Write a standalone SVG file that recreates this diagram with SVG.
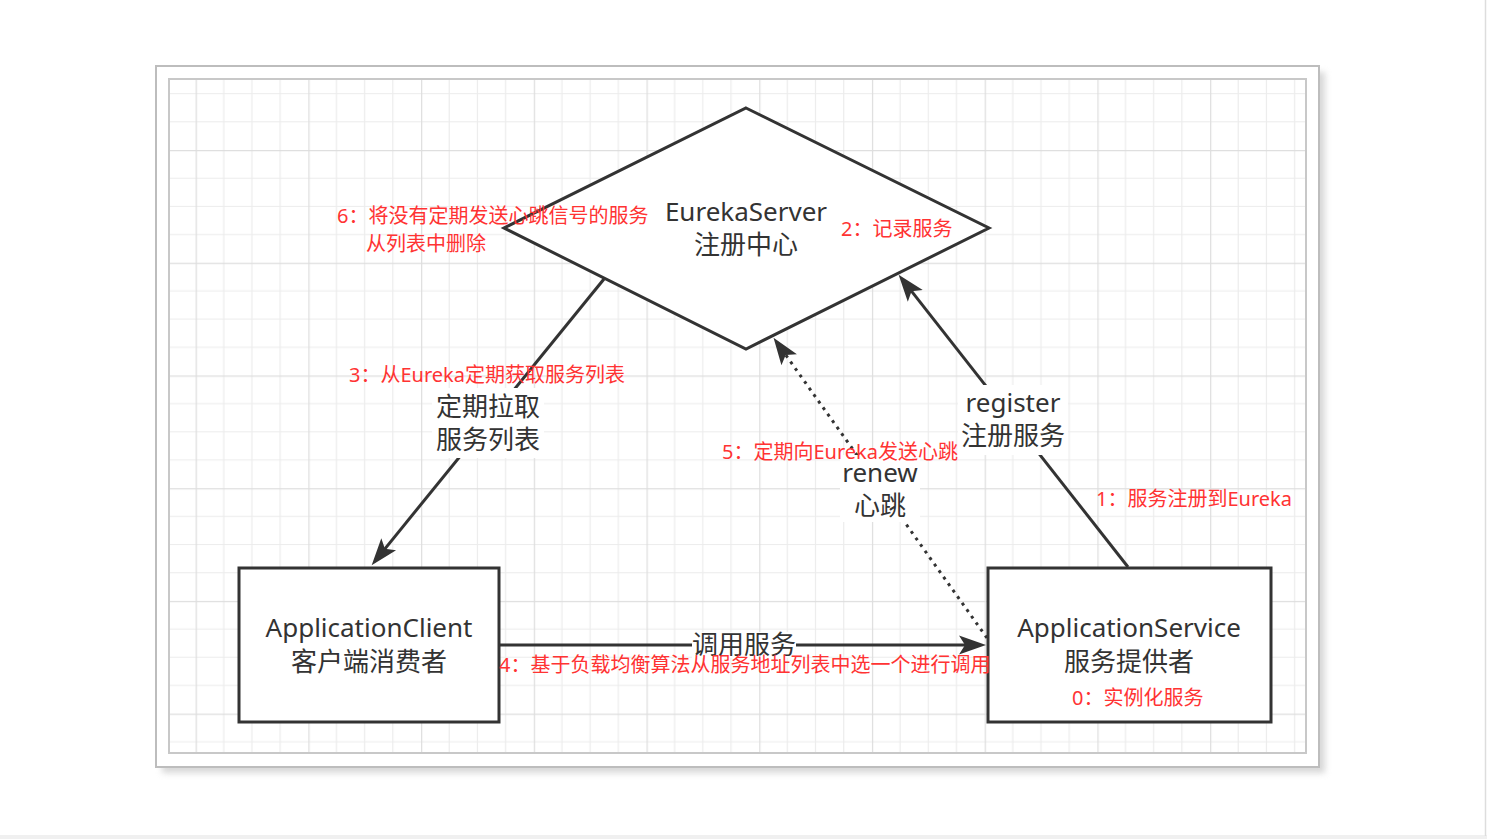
<svg xmlns="http://www.w3.org/2000/svg" width="1487" height="839" viewBox="0 0 1487 839">
  <style>
    .shape { fill: #ffffff; stroke: #333333; stroke-width: 3; }
    .edge { fill: none; stroke: #333333; stroke-width: 3; }
    .dotted { stroke-dasharray: 3 5; }
    .lbl { font-family: "Noto Sans", "Noto Sans CJK SC", sans-serif; font-size: 26px; fill: #333333; text-anchor: middle; }
    .red { font-family: "Noto Sans", "Noto Sans CJK SC", sans-serif; font-size: 20px; fill: #ff3333; }
    .lblbg { fill: #ffffff; }
    .minor { stroke: #ececec; stroke-width: 1.2; fill: none; }
    .major { stroke: #dedede; stroke-width: 1.5; fill: none; }
  </style>
  <defs>
    <pattern id="grid" patternUnits="userSpaceOnUse" x="82.9" y="37.3" width="112.72" height="112.72">
      <path class="minor" d="M28.18 0V112.72M56.36 0V112.72M84.54 0V112.72M0 28.18H112.72M0 56.36H112.72M0 84.54H112.72"/>
      <path class="major" d="M0.5 0V112.72M0 0.5H112.72"/>
    </pattern>
    <filter id="shadow" x="-5%" y="-5%" width="110%" height="110%">
      <feGaussianBlur stdDeviation="3"/>
    </filter>
    <marker id="arrow" markerUnits="userSpaceOnUse" viewBox="0 0 30 22" markerWidth="30" markerHeight="22" refX="16" refY="11" orient="auto">
      <path d="M27 11 L0 1.5 L6 11 L0 20.5 Z" fill="#333333"/>
    </marker>
  </defs>

  <!-- page -->
  <rect x="0" y="0" width="1487" height="839" fill="#ffffff"/>
  <rect x="0" y="835" width="1487" height="4" fill="#f0f0f0"/>
  <line x1="1485.5" y1="0" x2="1485.5" y2="836" stroke="#dddddd" stroke-width="1.5"/>

  <!-- frame -->
  <rect x="162" y="72" width="1163" height="701" fill="#bdbdbd" opacity="0.6" filter="url(#shadow)"/>
  <rect x="156" y="66" width="1163" height="701" fill="#ffffff" stroke="#bdbdbd" stroke-width="2"/>
  <rect x="169" y="79" width="1137" height="674" fill="url(#grid)" stroke="#c8c8c8" stroke-width="2"/>

  <!-- nodes -->
  <g id="eureka-server">
    <polygon class="shape" points="746,108 989,228 746,349 504,228"/>
    <text class="lbl" x="746" y="221">EurekaServer</text>
    <text class="lbl" x="746" y="254">注册中心</text>
  </g>
  <g id="application-client">
    <rect class="shape" x="239" y="568" width="260" height="154"/>
    <text class="lbl" x="369" y="637">ApplicationClient</text>
    <text class="lbl" x="369" y="671">客户端消费者</text>
  </g>
  <g id="application-service">
    <rect class="shape" x="988" y="568" width="283" height="154"/>
    <text class="lbl" x="1129" y="637">ApplicationService</text>
    <text class="lbl" x="1129" y="671">服务提供者</text>
  </g>

  <!-- connectors -->
  <g id="connectors">
    <line class="edge" x1="604" y1="279" x2="378.6" y2="556.6" marker-end="url(#arrow)"/>
    <line class="edge" x1="1128" y1="567" x2="905.4" y2="283.4" marker-end="url(#arrow)"/>
    <line class="edge dotted" x1="987" y1="638" x2="779.9" y2="346.8" marker-end="url(#arrow)"/>
    <line class="edge" x1="500" y1="645" x2="975" y2="645" marker-end="url(#arrow)"/>
  </g>

  <!-- connector labels -->
  <g id="edge-labels">
    <rect class="lblbg" x="432" y="388" width="112" height="70"/>
    <text class="lbl" x="488" y="416">定期拉取</text>
    <text class="lbl" x="488" y="449">服务列表</text>
    <rect class="lblbg" x="958" y="385" width="110" height="70"/>
    <text class="lbl" x="1013" y="412">register</text>
    <text class="lbl" x="1013" y="445">注册服务</text>
    <rect class="lblbg" x="840" y="455" width="80" height="67"/>
    <text class="lbl" x="880" y="482">renew</text>
    <text class="lbl" x="880" y="515">心跳</text>
    <rect class="lblbg" x="692" y="632" width="104" height="26"/>
    <text class="lbl" x="744" y="654">调用服务</text>
  </g>

  <!-- annotations -->
  <g id="annotations">
    <text class="red" x="337" y="223">6：将没有定期发送心跳信号的服务</text>
    <text class="red" x="366" y="251">从列表中删除</text>
    <text class="red" x="841" y="236">2：记录服务</text>
    <text class="red" x="349" y="382">3：从Eureka定期获取服务列表</text>
    <text class="red" x="722" y="459">5：定期向Eureka发送心跳</text>
    <text class="red" x="1096" y="506">1：服务注册到Eureka</text>
    <text class="red" x="499" y="672">4：基于负载均衡算法从服务地址列表中选一个进行调用</text>
    <text class="red" x="1072" y="705">0：实例化服务</text>
  </g>
</svg>
